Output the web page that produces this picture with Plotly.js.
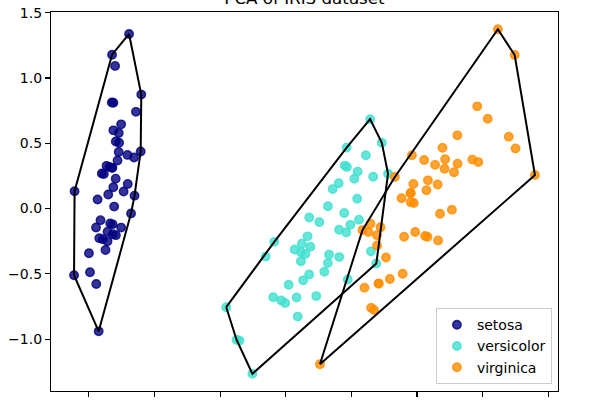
<!DOCTYPE html>
<html>
<head>
<meta charset="utf-8">
<script src="https://cdn.plot.ly/plotly-3.0.1.min.js"></script>
<style>html,body{margin:0;padding:0;background:#fff;}#chart{width:600px;height:400px;}</style>
</head>
<body>
<div id="chart"></div>
<script>
// PCA-projected IRIS data (component 1, component 2) per class
const classNames = ["setosa", "versicolor", "virginica"];
const classColors = ["0,0,128", "64,224,208", "255,140,0"];

const setosaX = [-2.684,-2.714,-2.889,-2.745,-2.729,-2.281,-2.821,-2.626,-2.886,-2.673,-2.507,-2.613,-2.786,-3.224,-2.645,-2.386,-2.624,-2.648,-2.200,-2.588,-2.310,-2.544,-3.216,-2.303,-2.356,-2.507,-2.469,-2.562,-2.640,-2.632,-2.587,-2.410,-2.649,-2.599,-2.637,-2.866,-2.625,-2.801,-2.981,-2.590,-2.770,-2.849,-2.997,-2.406,-2.209,-2.714,-2.538,-2.839,-2.543,-2.703];
const setosaY = [0.319,-0.177,-0.145,-0.318,0.327,0.741,-0.089,0.163,-0.578,-0.114,0.645,0.015,-0.235,-0.511,1.179,1.338,0.811,0.312,0.873,0.514,0.391,0.433,0.133,0.099,-0.037,-0.146,0.131,0.368,0.312,-0.197,-0.204,0.411,0.813,1.093,-0.121,0.069,0.599,0.269,-0.488,0.229,0.264,-0.941,-0.342,0.189,0.437,-0.250,0.504,-0.228,0.579,0.108];

const versicolorX = [1.285,0.932,1.464,0.183,1.088,0.642,1.095,-0.749,1.044,-0.009,-0.508,0.512,0.265,0.985,-0.174,0.928,0.660,0.236,0.945,0.045,1.116,0.358,1.298,0.922,0.715,0.900,1.332,1.558,0.813,-0.306,-0.068,-0.190,0.136,1.380,0.588,0.807,1.221,0.815,0.246,0.166,0.465,0.891,0.231,-0.705,0.357,0.332,0.376,0.643,-0.906,0.299];
const versicolorY = [0.685,0.318,0.504,-0.828,0.075,-0.418,0.283,-1.005,0.228,-0.723,-1.266,-0.104,-0.550,-0.125,-0.255,0.467,-0.353,-0.334,-0.543,-0.584,-0.085,-0.069,-0.328,-0.183,0.149,0.329,0.244,0.267,-0.163,-0.368,-0.705,-0.680,-0.314,-0.421,-0.484,0.194,0.408,-0.372,-0.269,-0.682,-0.671,-0.034,-0.404,-1.012,-0.505,-0.213,-0.293,0.018,-0.756,-0.349];

const virginicaX = [2.531,1.415,2.617,1.972,2.350,3.397,0.521,2.933,2.321,2.917,1.662,1.803,2.166,1.346,1.586,1.904,1.950,3.487,3.796,1.301,2.428,1.199,3.500,1.389,2.275,2.614,1.259,1.291,2.124,2.388,2.842,3.231,2.159,1.444,1.781,3.076,2.144,1.905,1.169,2.108,2.314,1.922,1.415,2.563,2.419,1.944,1.527,1.764,1.901,1.390];
const virginicaY = [-0.010,-0.575,0.344,-0.180,-0.040,0.551,-1.193,0.356,-0.244,0.783,0.242,-0.216,0.216,-0.777,-0.540,0.119,0.042,1.176,0.257,-0.761,0.378,-0.606,0.461,-0.204,0.335,0.561,-0.180,-0.117,-0.210,0.465,0.375,1.374,-0.217,-0.143,-0.500,0.688,0.140,0.049,-0.165,0.372,0.184,0.409,-0.575,0.278,0.305,0.188,-0.375,0.079,0.117,-0.283];

const seriesX = [setosaX, versicolorX, virginicaX];
const seriesY = [setosaY, versicolorY, virginicaY];

// Convex hull (monotone chain) of each class, closed polygon
function hull(xs, ys) {
  const pts = xs.map((x, i) => [x, ys[i]]).sort((a, b) => a[0] - b[0] || a[1] - b[1]);
  const cross = (o, a, b) => (a[0]-o[0])*(b[1]-o[1]) - (a[1]-o[1])*(b[0]-o[0]);
  const lower = [];
  for (const p of pts) { while (lower.length >= 2 && cross(lower[lower.length-2], lower[lower.length-1], p) <= 0) lower.pop(); lower.push(p); }
  const upper = [];
  for (let i = pts.length - 1; i >= 0; i--) { const p = pts[i]; while (upper.length >= 2 && cross(upper[upper.length-2], upper[upper.length-1], p) <= 0) upper.pop(); upper.push(p); }
  upper.pop(); lower.pop();
  const h = lower.concat(upper); h.push(h[0]);
  return {x: h.map(p => p[0]), y: h.map(p => p[1])};
}

const traces = [];
for (let k = 0; k < 3; k++) {
  traces.push({
    type: 'scatter', mode: 'markers', name: classNames[k], x: seriesX[k], y: seriesY[k],
    marker: {size: 8.5, color: 'rgba(' + classColors[k] + ',0.8)', line: {color: 'rgba(' + classColors[k] + ',0.8)', width: 1.4}},
    hoverinfo: 'skip'
  });
}
for (let k = 0; k < 3; k++) {
  const h = hull(seriesX[k], seriesY[k]);
  traces.push({type: 'scatter', mode: 'lines', x: h.x, y: h.y, showlegend: false,
    line: {color: 'black', width: 2}, hoverinfo: 'skip'});
}

// matplotlib-like 5% autoscale margins
const allX = [].concat(...seriesX), allY = [].concat(...seriesY);
const xmin = Math.min(...allX), xmax = Math.max(...allX), ymin = Math.min(...allY), ymax = Math.max(...allY);
const mx = (xmax - xmin) * 0.05, my = (ymax - ymin) * 0.05;

const font = {family: 'DejaVu Sans', size: 14, color: '#000'};
const axisCommon = {showline: true, linecolor: 'black', linewidth: 1.1, mirror: true, ticks: 'outside', ticklen: 5,
  tickwidth: 1.1, tickcolor: 'black', showgrid: false, zeroline: false, tickfont: font};

const layout = {
  width: 600, height: 400,
  margin: {l: 51, r: 42, t: 12, b: 9, pad: 0},
  paper_bgcolor: 'white', plot_bgcolor: 'white',
  font: font,
  title: {text: 'PCA of IRIS dataset', font: {family: 'DejaVu Sans', size: 16.7, color: '#000'},
    xref: 'paper', x: 0.5, xanchor: 'center', yref: 'paper', y: 1, yanchor: 'bottom', pad: {b: 8}},
  xaxis: Object.assign({}, axisCommon, {range: [xmin - mx, xmax + mx], dtick: 1, tick0: 0, ticklabelstandoff: 12}),
  yaxis: Object.assign({}, axisCommon, {range: [ymin - my, ymax + my], dtick: 0.5, tick0: 0, tickformat: '.1f'}),
  showlegend: true,
  legend: {x: 0.988, xanchor: 'right', y: 0.018, yanchor: 'bottom', bgcolor: 'rgba(255,255,255,0.8)',
    bordercolor: '#cccccc', borderwidth: 1, font: font, traceorder: 'normal', itemsizing: 'trace'}
};

Plotly.newPlot('chart', traces, layout, {staticPlot: true, displayModeBar: false});
</script>
</body>
</html>
